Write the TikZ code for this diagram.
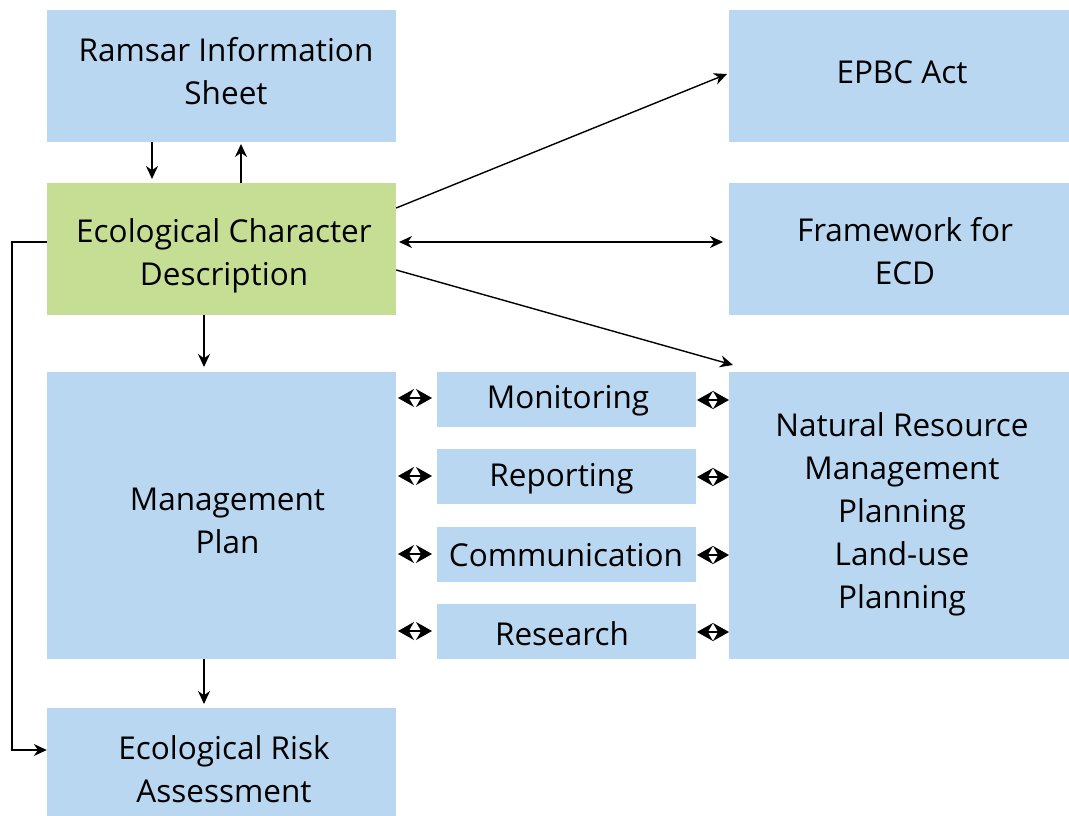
\documentclass[tikz,border=0pt]{standalone}
\usepackage{fontspec}
\setmainfont{Open Sans}
\usetikzlibrary{arrows.meta}
\definecolor{bluebox}{RGB}{185,215,240}
\definecolor{greenbox}{RGB}{197,222,148}
\begin{document}
\begin{tikzpicture}[x=1pt,y=-1pt,
  box/.style={fill=bluebox,draw=none,inner sep=0pt},
  gbox/.style={box,fill=greenbox},
  lbl/.style={inner sep=0pt,align=center,font=\fontsize{31.5}{43}\selectfont},
  arr/.style={-{Stealth[length=13pt,width=12pt]},line width=1.4pt},
  darr/.style={{Stealth[length=13pt,width=12pt]}-{Stealth[length=13pt,width=12pt]},line width=1.4pt},
  sarr/.style={{Stealth[length=16pt,width=18pt]}-{Stealth[length=16pt,width=18pt]},line width=1.4pt}]
\useasboundingbox (0,0) rectangle (1069,816);
% boxes
\node[box,minimum width=349pt,minimum height=132pt,
  label={[lbl,xshift=4.5pt,yshift=4.5pt]center:Ramsar Information\\Sheet}] (ris) at (221.5,76) {};
\node[gbox,minimum width=349pt,minimum height=132pt,
  label={[lbl,xshift=2.5pt,yshift=-6.5pt]center:Ecological Character\\Description}] (ecd) at (221.5,249) {};
\node[box,minimum width=340pt,minimum height=132pt,
  label={[lbl,xshift=3pt,yshift=4pt]center:EPBC Act}] (epbc) at (899,76) {};
\node[box,minimum width=340pt,minimum height=132pt,
  label={[lbl,xshift=6pt,yshift=-2pt]center:Framework for\\ECD}] (fw) at (899,249) {};
\node[box,minimum width=349pt,minimum height=287pt,
  label={[lbl,xshift=6pt,yshift=-5pt]center:Management\\Plan}] (mp) at (221.5,515.5) {};
\node[box,minimum width=259pt,minimum height=55pt,
  label={[lbl,xshift=1.5pt,yshift=-1pt]center:Monitoring}] (mon) at (566.5,399.5) {};
\node[box,minimum width=259pt,minimum height=55pt,
  label={[lbl,xshift=-5pt,yshift=-2pt]center:Reporting}] (rep) at (566.5,476.5) {};
\node[box,minimum width=259pt,minimum height=55pt,
  label={[lbl,xshift=-0.5pt,yshift=-0.5pt]center:Communication}] (com) at (566.5,554.5) {};
\node[box,minimum width=259pt,minimum height=55pt,
  label={[lbl,xshift=-4.5pt,yshift=-2.5pt]center:Research}] (res) at (566.5,631.5) {};
\node[box,minimum width=340pt,minimum height=287pt,
  label={[lbl,xshift=3pt,yshift=1.5pt]center:Natural Resource\\Management\\Planning\\Land-use\\Planning}] (nrm) at (899,515.5) {};
\node[box,minimum width=349pt,minimum height=108pt,
  label={[lbl,xshift=2.5pt,yshift=-7pt]center:Ecological Risk\\Assessment}] (era) at (221.5,762) {};
% coordinates
\coordinate (a1) at (152,142); \coordinate (a2) at (152,179);
\coordinate (b1) at (241,183); \coordinate (b2) at (241,144);
\coordinate (t1) at (727,74);
\coordinate (t2) at (723,242);
\coordinate (t3) at (733,365);
\coordinate (m1) at (204,367);
\coordinate (r1) at (204,704);
\draw[arr] (a1) -- (a2);
\draw[arr] (b1) -- (b2);
\draw[arr] (ecd.east |- 0,208) -- (t1);
\draw[darr] (399,242) -- (t2);
\draw[arr] (ecd.east |- 0,270) -- (t3);
\draw[arr] (ecd.south -| m1) -- (m1);
\draw[arr] (mp.south -| r1) -- (r1);
\draw[line width=1.2pt,-{Stealth[length=13pt,width=12pt]}] (ecd.west |- 0,242) -- (12,242) -- (12,750) -- (era.west |- 0,750);
% small double arrows
\foreach \y in {398,476,554,631}{
  \draw[sarr] (398,\y) -- (432,\y);
}
\foreach \y in {400,477,555,632}{
  \draw[sarr] (697,\y) -- (729,\y);
}
\end{tikzpicture}
\end{document}
